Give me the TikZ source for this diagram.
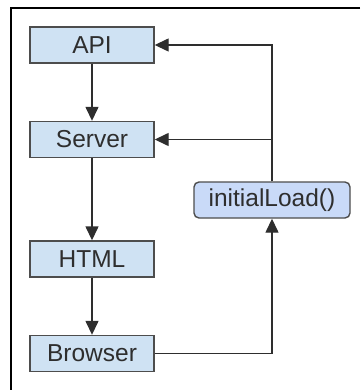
\documentclass[tikz,border=0pt]{standalone}
\usepackage{fontspec}
\setmainfont{Liberation Sans}
\usetikzlibrary{positioning,arrows.meta}
\definecolor{boxblue}{HTML}{CFE2F3}
\definecolor{callblue}{HTML}{C9DAF8}
\definecolor{linegray}{HTML}{2E2E2E}

\begin{document}
\begin{tikzpicture}[x=1pt,y=1pt,node distance=94.5pt,
    layer/.style={draw=linegray!85,line width=1.4pt,fill=boxblue,minimum width=124pt,
      minimum height=36pt,inner sep=0pt,font=\fontsize{24.5}{28}\selectfont,text=linegray},
    call/.style={layer,fill=callblue,rounded corners=5pt,minimum width=156pt},
    flow/.style={draw=linegray,line width=1.4pt,-{Triangle[length=14pt,width=13pt]}}]
    \useasboundingbox (0,0) rectangle (360,-390);
    % frame, only top and left edge show
    \draw[line width=2.5pt] (360,-8) -- (11,-8) -- (11,-390);

    \node[layer] at (92,-45) (api) {API};
    \node[layer,below of=api] (server) {Server};
    \node[layer,below of=server,node distance=119.5pt] (html) {HTML};
    \node[layer,below of=html] (browser) {Browser};
    \node[call] at (272,-200) (load) {initialLoad()};

    \draw[flow] (api) -- (server);
    \draw[flow] (server) -- (html);
    \draw[flow] (html) -- (browser);
    \draw[flow] (browser.east) -| (load.south);
    \draw[flow] (load.north) |- (api.east);
    \draw[flow] (load.north) |- (server.east);
\end{tikzpicture}
\end{document}
